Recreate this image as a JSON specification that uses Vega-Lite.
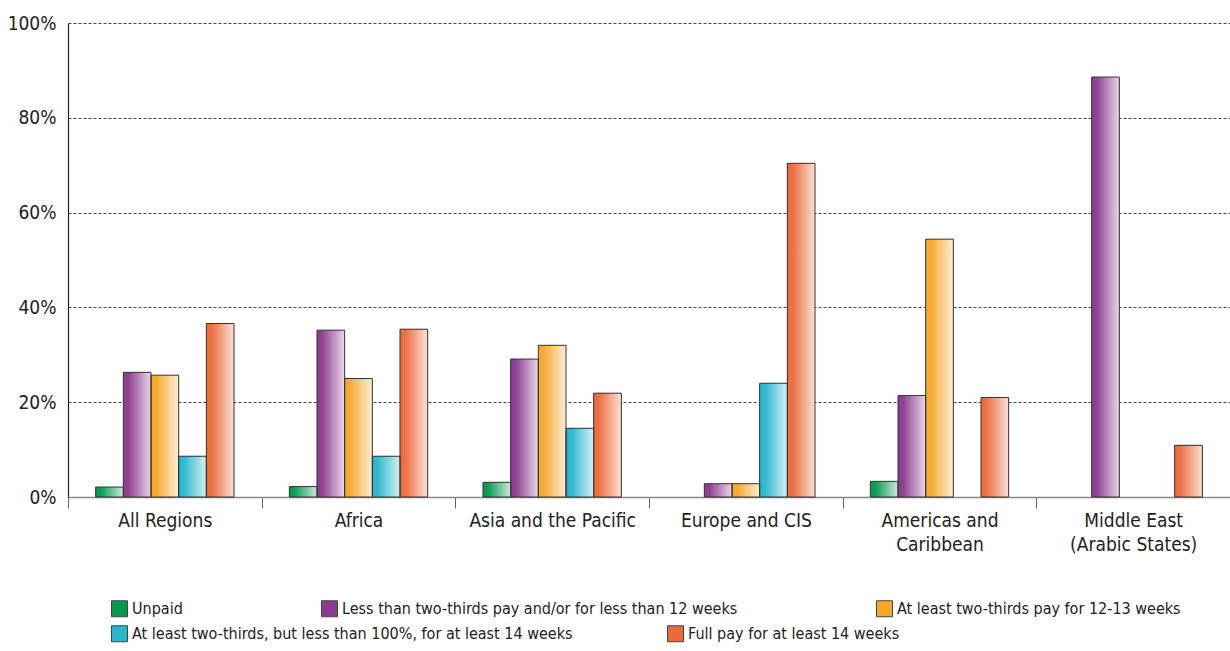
{
  "$schema": "https://vega.github.io/schema/vega-lite/v6.json",
  "width": 1162,
  "height": 474,
  "autosize": {"type": "none"},
  "padding": {"left": 68, "top": 23, "right": 0, "bottom": 154},
  "background": "white",
  "config": {
    "view": {"stroke": null},
    "font": "DejaVu Sans Condensed, Roboto, sans-serif",
    "axis": {"labelColor": "#222", "labelFont": "DejaVu Sans Condensed, Roboto, sans-serif"},
    "legend": {"labelColor": "#222", "labelFont": "DejaVu Sans Condensed, Roboto, sans-serif"}
  },
  "data": {
    "values": [
      {"region": "All Regions", "series": "Unpaid", "value": 2.1},
      {"region": "All Regions", "series": "Less than two-thirds pay and/or for less than 12 weeks", "value": 26.3},
      {"region": "All Regions", "series": "At least two-thirds pay for 12-13 weeks", "value": 25.7},
      {"region": "All Regions", "series": "At least two-thirds, but less than 100%, for at least 14 weeks", "value": 8.6},
      {"region": "All Regions", "series": "Full pay for at least 14 weeks", "value": 36.6},
      {"region": "Africa", "series": "Unpaid", "value": 2.2},
      {"region": "Africa", "series": "Less than two-thirds pay and/or for less than 12 weeks", "value": 35.2},
      {"region": "Africa", "series": "At least two-thirds pay for 12-13 weeks", "value": 25.0},
      {"region": "Africa", "series": "At least two-thirds, but less than 100%, for at least 14 weeks", "value": 8.6},
      {"region": "Africa", "series": "Full pay for at least 14 weeks", "value": 35.4},
      {"region": "Asia and the Pacific", "series": "Unpaid", "value": 3.1},
      {"region": "Asia and the Pacific", "series": "Less than two-thirds pay and/or for less than 12 weeks", "value": 29.1},
      {"region": "Asia and the Pacific", "series": "At least two-thirds pay for 12-13 weeks", "value": 32.0},
      {"region": "Asia and the Pacific", "series": "At least two-thirds, but less than 100%, for at least 14 weeks", "value": 14.5},
      {"region": "Asia and the Pacific", "series": "Full pay for at least 14 weeks", "value": 21.9},
      {"region": "Europe and CIS", "series": "Less than two-thirds pay and/or for less than 12 weeks", "value": 2.8},
      {"region": "Europe and CIS", "series": "At least two-thirds pay for 12-13 weeks", "value": 2.8},
      {"region": "Europe and CIS", "series": "At least two-thirds, but less than 100%, for at least 14 weeks", "value": 24.0},
      {"region": "Europe and CIS", "series": "Full pay for at least 14 weeks", "value": 70.4},
      {"region": "Americas and Caribbean", "series": "Unpaid", "value": 3.3},
      {"region": "Americas and Caribbean", "series": "Less than two-thirds pay and/or for less than 12 weeks", "value": 21.4},
      {"region": "Americas and Caribbean", "series": "At least two-thirds pay for 12-13 weeks", "value": 54.4},
      {"region": "Americas and Caribbean", "series": "Full pay for at least 14 weeks", "value": 21.0},
      {"region": "Middle East (Arabic States)", "series": "Less than two-thirds pay and/or for less than 12 weeks", "value": 88.6},
      {"region": "Middle East (Arabic States)", "series": "Full pay for at least 14 weeks", "value": 10.9}
    ]
  },
  "encoding": {
    "x": {
      "field": "region",
      "type": "nominal",
      "sort": ["All Regions", "Africa", "Asia and the Pacific", "Europe and CIS", "Americas and Caribbean", "Middle East (Arabic States)"],
      "scale": {"paddingInner": 0, "paddingOuter": 0},
      "axis": {
        "title": null,
        "labelAngle": 0,
        "tickBand": "extent",
        "tickSize": 11,
        "tickColor": "#666",
        "domainColor": "#888",
        "domainWidth": 1.5,
        "grid": false,
        "labelPadding": 3,
        "labelFontSize": 19,
        "labelLineHeight": 24,
        "labelLimit": 0,
        "labelExpr": "datum.label == 'Americas and Caribbean' ? ['Americas and', 'Caribbean'] : datum.label == 'Middle East (Arabic States)' ? ['Middle East', '(Arabic States)'] : datum.label"
      }
    },
    "xOffset": {
      "field": "series",
      "type": "nominal",
      "scale": {
        "domain": ["Unpaid", "Less than two-thirds pay and/or for less than 12 weeks", "At least two-thirds pay for 12-13 weeks", "At least two-thirds, but less than 100%, for at least 14 weeks", "Full pay for at least 14 weeks"],
        "paddingInner": 0,
        "paddingOuter": 1.4
      }
    },
    "y": {
      "field": "value",
      "type": "quantitative",
      "scale": {"domain": [0, 100], "nice": false},
      "axis": {
        "title": null,
        "values": [0, 20, 40, 60, 80, 100],
        "labelExpr": "datum.value + '%'",
        "ticks": false,
        "labelPadding": 12,
        "labelFontSize": 19,
        "domainColor": "#222",
        "domainWidth": 1.2,
        "gridColor": "#444",
        "gridDash": [3, 2],
        "gridWidth": 1
      }
    }
  },
  "layer": [
    {
      "mark": {"type": "bar"},
      "encoding": {
        "fill": {
          "field": "series",
          "type": "nominal",
          "scale": {
            "domain": ["At least two-thirds, but less than 100%, for at least 14 weeks", "Full pay for at least 14 weeks"],
            "range": ["#27b6cd", "#ec6a3a"]
          },
          "legend": {
            "orient": "none",
            "legendX": 43,
            "legendY": 602,
            "direction": "horizontal",
            "columnPadding": 92,
            "labelOffset": 4,
            "symbolType": "square",
            "symbolSize": 256,
            "symbolStrokeColor": "#444",
            "symbolStrokeWidth": 1,
            "symbolOpacity": 1,
            "labelFontSize": 16,
            "labelLimit": 0,
            "title": null
          }
        }
      }
    },
    {
      "mark": {"type": "bar"},
      "encoding": {
        "color": {
          "field": "series",
          "type": "nominal",
          "scale": {
            "domain": ["Unpaid", "Less than two-thirds pay and/or for less than 12 weeks", "At least two-thirds pay for 12-13 weeks", "At least two-thirds, but less than 100%, for at least 14 weeks", "Full pay for at least 14 weeks"],
            "range": ["#009a4e", "#8b3a8e", "#f6a72a", "#27b6cd", "#ec6a3a"]
          },
          "legend": {
            "values": ["Unpaid", "Less than two-thirds pay and/or for less than 12 weeks", "At least two-thirds pay for 12-13 weeks"],
            "orient": "none",
            "legendX": 43,
            "legendY": 577,
            "direction": "horizontal",
            "columnPadding": 136,
            "labelOffset": 4,
            "symbolType": "square",
            "symbolSize": 256,
            "symbolStrokeColor": "#444",
            "symbolStrokeWidth": 1,
            "symbolOpacity": 1,
            "labelFontSize": 16,
            "labelLimit": 0,
            "title": null
          }
        }
      }
    },
    {
      "mark": {
        "type": "bar",
        "fill": {
          "gradient": "linear",
          "x1": 0, "y1": 0, "x2": 1, "y2": 0,
          "stops": [
            {"offset": 0, "color": "rgba(255,255,255,0)"},
            {"offset": 0.2, "color": "rgba(255,255,255,0.05)"},
            {"offset": 1, "color": "rgba(255,255,255,0.8)"}
          ]
        },
        "stroke": "#333",
        "strokeWidth": 1
      },
      "encoding": {}
    }
  ]
}
